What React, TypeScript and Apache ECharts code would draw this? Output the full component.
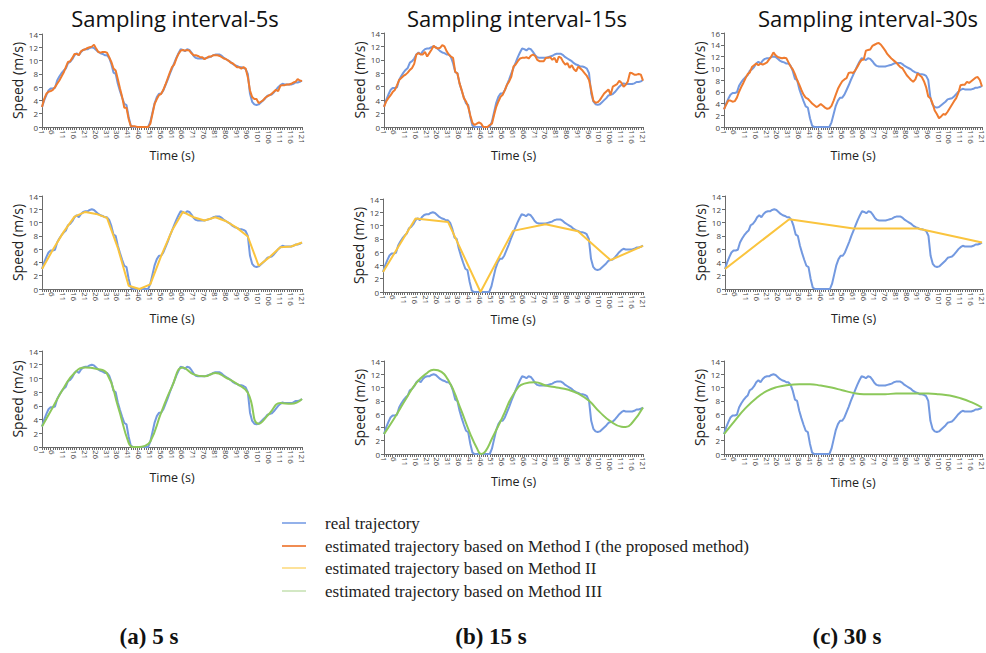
import React, { useEffect, useRef } from "react";
import * as echarts from "echarts";

const times = Array.from({ length: 121 }, (_, i) => String(i + 1));

const realSpeed = [
  3.0, 4.0, 4.8, 5.5, 5.8, 5.8, 5.9, 7.0, 7.6, 8.1,
  8.5, 8.8, 9.6, 9.8, 10.2, 10.8, 11.1, 10.8, 11.3, 11.6,
  11.7, 11.7, 11.9, 12.0, 11.9, 11.6, 11.3, 11.1, 11.0, 10.8,
  10.8, 10.4, 9.5, 8.2, 8.0, 6.5, 5.4, 4.4, 3.5, 3.3,
  1.5, 0.2, 0, 0, 0, 0, 0, 0, 0, 0,
  0.8, 2.2, 3.6, 4.5, 5.0, 5.0, 5.5, 6.3, 7.1, 8.0,
  8.8, 9.6, 10.4, 11.1, 11.7, 11.6, 11.4, 11.7, 11.6, 11.2,
  10.7, 10.4, 10.3, 10.3, 10.3, 10.3, 10.4, 10.5, 10.6, 10.8,
  10.9, 10.9, 10.9, 10.7, 10.4, 10.2, 10.0, 9.8, 9.5, 9.3,
  9.2, 9.0, 9.0, 8.9, 8.7, 8.0, 5.0, 3.8, 3.4, 3.3,
  3.4, 3.7, 4.0, 4.3, 4.7, 4.8, 4.9, 5.2, 5.6, 6.0,
  6.3, 6.5, 6.4, 6.4, 6.4, 6.4, 6.5, 6.7, 6.7, 6.8,
  7.0,
];

const method1At5s = [
  3.0, 4.2, 5.0, 5.3, 5.4, 5.6, 6.0, 6.5, 7.0, 7.6,
  8.2, 9.0, 9.8, 9.9, 10.4, 11.0, 11.0, 10.8, 11.4, 11.6,
  11.7, 11.9, 12.0, 12.1, 12.4, 11.8, 11.3, 11.2, 11.3, 11.3,
  11.2, 10.5, 9.8, 8.8, 8.5, 7.2, 5.8, 4.5, 2.9, 2.9,
  1.2, 0.1, 0.1, 0.1, 0, 0, 0, 0, 0, 0,
  0.5, 2.0, 3.5, 4.2, 4.8, 5.0, 5.6, 6.4, 7.3, 8.2,
  9.0, 9.4, 10.3, 11.0, 11.5, 11.6, 11.5, 11.6, 11.5, 11.1,
  10.8, 10.8, 10.7, 10.5, 10.5, 10.2, 10.4, 10.6, 10.6, 10.8,
  10.8, 10.8, 10.7, 10.5, 10.3, 10.2, 10.0, 9.7, 9.6, 9.3,
  9.0, 9.0, 8.8, 9.0, 8.8, 7.5, 5.5, 4.5, 4.2, 4.2,
  3.6, 3.8, 4.0, 4.4, 4.6, 4.8, 5.0, 5.3, 5.6, 5.4,
  6.2, 6.3, 6.3, 6.4, 6.4, 6.5, 6.7, 6.8, 7.2, 7.0,
  6.9,
];

const method1At15s = [
  3.0, 3.8, 4.3, 4.7, 5.2, 5.5, 6.2, 7.0, 7.3, 7.6,
  7.8, 8.1, 8.5, 8.8, 9.4, 10.8, 11.0, 10.8, 10.8, 11.2,
  10.5, 11.0, 11.5, 12.1, 11.8, 11.7, 11.8, 12.2, 12.0, 11.3,
  10.8, 10.5, 10.3, 8.2, 8.0, 6.5, 5.5, 4.3, 3.8, 3.0,
  1.7, 0.6, 0.3, 0.5, 0.7, 0.5, 0, 0, 0, 0.3,
  0.5, 1.8, 3.0, 3.8, 4.5, 4.8, 5.5, 6.3, 6.8, 7.5,
  9.0, 9.3, 9.8, 10.2, 10.3, 10.3, 10.4, 10.2, 10.6, 10.8,
  10.6, 10.0, 9.8, 9.8, 9.8, 10.3, 10.3, 10.4, 10.0, 10.3,
  9.6, 10.5, 10.3, 9.7, 9.3, 9.5, 8.8, 9.2, 8.6, 8.3,
  9.0, 8.7, 8.4, 8.0, 7.6, 7.0, 5.5, 3.9, 3.6, 3.7,
  4.0, 4.5, 5.0, 5.3, 5.6, 4.8, 6.0, 6.2, 6.4, 6.9,
  6.6, 6.0, 6.3, 6.8, 8.1, 8.0, 7.8, 7.8, 7.9, 7.8,
  6.9,
];

const method1At30s = [
  3.0, 3.8, 4.5, 4.5, 4.3, 4.4, 5.0, 6.0, 6.8, 7.5,
  8.3, 9.0, 9.3, 10.2, 10.5, 10.8, 10.5, 10.8, 10.6, 10.8,
  11.0, 11.5, 12.0, 12.7, 12.2, 11.9, 11.8, 11.7, 11.8, 11.7,
  11.0, 10.3, 9.8, 9.0, 8.0, 7.2, 6.3, 5.5, 5.0, 4.8,
  4.4, 4.0, 3.7, 3.4, 3.6, 3.9, 3.6, 3.3, 3.1, 3.2,
  3.6, 4.5, 5.5, 6.5, 7.2, 7.8, 8.1, 8.3, 9.2, 9.3,
  9.2, 9.6, 10.2, 10.9, 11.4, 11.5, 13.0, 13.1, 13.2, 13.8,
  14.0, 14.2, 14.3, 14.0, 13.5, 13.0, 12.4, 12.0, 11.6, 11.3,
  11.0, 10.6, 10.2, 10.0, 9.4, 8.8, 8.4, 8.0, 7.7, 8.1,
  9.1, 8.8, 8.5, 7.8, 6.8, 5.2, 4.9, 4.0, 2.8, 2.2,
  1.5, 1.8, 2.2, 2.1, 2.6, 3.2, 3.8, 4.4, 4.9, 5.8,
  7.1, 7.2, 7.2, 7.7, 7.5, 7.8, 8.1, 8.4, 8.5, 8.0,
  6.9,
];

const method2At5sTimes = [1, 6, 11, 16, 21, 26, 31, 36, 41, 46, 51, 56, 61, 66, 71, 76, 81, 86, 91, 96, 101, 106, 111, 116, 121];
const method2At5sValues = [3.0, 5.9, 8.6, 10.9, 11.6, 11.3, 10.7, 6.2, 0.5, 0, 0.7, 5.0, 8.8, 11.6, 10.8, 10.3, 10.8, 10.2, 9.2, 7.9, 3.5, 4.8, 6.3, 6.4, 7.0];
const method2At15sTimes = [1, 16, 31, 46, 61, 76, 91, 106, 121];
const method2At15sValues = [3.0, 11.05, 10.55, 0, 9.2, 10.2, 9.15, 4.8, 6.95];
const method2At30sTimes = [1, 31, 61, 91, 121];
const method2At30sValues = [3.0, 10.5, 9.1, 9.1, 7.0];

const method3At5sTimes = [1, 6, 11, 16, 21, 26, 31, 36, 41, 43, 46, 48, 51, 56, 61, 66, 71, 76, 81, 86, 91, 96, 101, 106, 111, 116, 121];
const method3At5sValues = [3.0, 5.8, 8.6, 10.8, 11.6, 11.4, 10.7, 6.0, 0.6, 0, 0, 0.1, 0.8, 5.0, 8.8, 11.6, 10.6, 10.3, 10.8, 10.1, 9.2, 7.9, 3.4, 4.9, 6.4, 6.3, 7.0];
const method3At15sTimes = [1, 6, 11, 16, 21, 24, 26, 31, 36, 41, 44, 46, 48, 51, 56, 61, 66, 71, 76, 81, 86, 91, 96, 101, 106, 111, 113, 116, 121];
const method3At15sValues = [3.0, 5.5, 8.2, 10.7, 12.2, 12.7, 12.6, 11.0, 7.2, 3.0, 0.9, 0, 0.4, 2.3, 5.6, 9.0, 10.6, 10.8, 10.3, 10.0, 9.7, 9.1, 8.0, 6.3, 4.9, 4.1, 4.05, 4.7, 7.0];
const method3At30sTimes = [1, 6, 11, 16, 21, 26, 31, 36, 41, 46, 51, 56, 61, 66, 71, 76, 81, 86, 91, 96, 101, 106, 111, 116, 121];
const method3At30sValues = [3.0, 5.0, 6.9, 8.4, 9.5, 10.1, 10.4, 10.5, 10.5, 10.3, 10.0, 9.6, 9.2, 9.0, 9.0, 9.0, 9.1, 9.1, 9.1, 9.1, 9.0, 8.8, 8.4, 7.8, 7.0];

const titles = ["Sampling interval-5s", "Sampling interval-15s", "Sampling interval-30s"];
const captions = ["(a) 5 s", "(b) 15 s", "(c) 30 s"];
const legendNames = [
  "real trajectory",
  "estimated trajectory based on Method I (the proposed method)",
  "estimated trajectory based on Method II",
  "estimated trajectory based on Method III",
];

const REAL = "#7399e0";
const ORANGE = "#ef7b2f";
const YELLOW = "#fac43e";
const GREEN = "#8cc85a";
const LEGEND_COLORS = ["#93b1ea", "#f08c52", "#fde29a", "#d3e8c4"];

// layout of the nine panels
const panels = [
  { left: 42, top: 34, width: 260, height: 93, yMax: 14, nameGap: 22 },
  { left: 384, top: 33, width: 259, height: 94, yMax: 14, nameGap: 22 },
  { left: 724, top: 33, width: 261, height: 94, yMax: 16, nameGap: 22 },
  { left: 42, top: 196, width: 260, height: 93, yMax: 14, nameGap: 23 },
  { left: 383, top: 199, width: 260, height: 93, yMax: 14, nameGap: 20 },
  { left: 725, top: 196, width: 260, height: 93, yMax: 14, nameGap: 23 },
  { left: 42, top: 351, width: 260, height: 96, yMax: 14, nameGap: 24 },
  { left: 384, top: 361, width: 259, height: 93, yMax: 14, nameGap: 16 },
  { left: 724, top: 361, width: 261, height: 93, yMax: 14, nameGap: 22 },
];

function pairs(ts: number[], vs: number[]) {
  return ts.map((t, i) => [t - 1, vs[i]]);
}

export default function App() {
  const ref = useRef<HTMLDivElement>(null);

  useEffect(() => {
    if (!ref.current) return;
    const chart = echarts.init(ref.current, null, { renderer: "svg" });

    const grids = panels.map((p) => ({
      left: p.left,
      top: p.top,
      width: p.width,
      height: p.height,
      containLabel: false,
    }));

    const xAxes = panels.map((p, i) => ({
      type: "category",
      gridIndex: i,
      data: times,
      boundaryGap: false,
      axisLine: { lineStyle: { color: "#6b6b6b", width: 1 } },
      axisTick: { interval: 0, length: 3, lineStyle: { color: "#6b6b6b" } },
      axisLabel: {
        interval: 4,
        rotate: -90,
        fontSize: 8,
        color: "#444",
        margin: 3,
        fontFamily: "Open Sans",
      },
      name: "Time (s)",
      nameLocation: "middle",
      nameGap: p.nameGap,
      nameTextStyle: { fontSize: 12.5, color: "#222", fontFamily: "Open Sans" },
    }));

    const yAxes = panels.map((p, i) => ({
      type: "value",
      gridIndex: i,
      min: 0,
      max: p.yMax,
      interval: 2,
      splitLine: { show: false },
      axisLine: { show: true, lineStyle: { color: "#6b6b6b" } },
      axisTick: { show: true, length: 3, lineStyle: { color: "#6b6b6b" } },
      axisLabel: { fontSize: 8, color: "#444", margin: 4, fontFamily: "Open Sans" },
      name: "Speed (m/s)",
      nameLocation: "middle",
      nameGap: 16,
      nameTextStyle: { fontSize: 14, color: "#222", fontFamily: "Open Sans" },
    }));

    const line = (i: number, name: string, data: any[], color: string, smooth = false, z = 2) => ({
      type: "line",
      name,
      xAxisIndex: i,
      yAxisIndex: i,
      data,
      showSymbol: false,
      symbol: "none",
      smooth,
      lineStyle: { color, width: 2 },
      itemStyle: { color },
      z,
    });

    const series: any[] = [];
    for (let i = 0; i < 9; i++) series.push(line(i, legendNames[0], realSpeed, REAL));
    series.push(line(0, legendNames[1], method1At5s, ORANGE, false, 3));
    series.push(line(1, legendNames[1], method1At15s, ORANGE, false, 3));
    series.push(line(2, legendNames[1], method1At30s, ORANGE, false, 3));
    series.push(line(3, legendNames[2], pairs(method2At5sTimes, method2At5sValues), YELLOW, false, 3));
    series.push(line(4, legendNames[2], pairs(method2At15sTimes, method2At15sValues), YELLOW, false, 3));
    series.push(line(5, legendNames[2], pairs(method2At30sTimes, method2At30sValues), YELLOW, false, 3));
    series.push(line(6, legendNames[3], pairs(method3At5sTimes, method3At5sValues), GREEN, true, 3));
    series.push(line(7, legendNames[3], pairs(method3At15sTimes, method3At15sValues), GREEN, true, 3));
    series.push(line(8, legendNames[3], pairs(method3At30sTimes, method3At30sValues), GREEN, true, 3));

    const titleCenters = [175, 517, 868];
    const captionCenters = [149, 491, 847];
    const legendRows = [523, 546, 568, 591];

    const graphic: any[] = [];
    titles.forEach((t, i) =>
      graphic.push({
        type: "text",
        x: titleCenters[i],
        y: 18,
        style: {
          text: t,
          fontSize: 22,
          fontFamily: "Open Sans",
          fill: "#111",
          align: "center",
          verticalAlign: "middle",
        },
      })
    );
    legendNames.forEach((n, i) => {
      graphic.push({
        type: "line",
        shape: { x1: 282, y1: legendRows[i], x2: 306, y2: legendRows[i] },
        style: { stroke: LEGEND_COLORS[i], lineWidth: 2 },
      });
      graphic.push({
        type: "text",
        x: 325,
        y: legendRows[i],
        style: {
          text: n,
          fontSize: 17,
          fontFamily: "Liberation Serif",
          fill: "#222",
          align: "left",
          verticalAlign: "middle",
        },
      });
    });
    captions.forEach((c, i) =>
      graphic.push({
        type: "text",
        x: captionCenters[i],
        y: 636,
        style: {
          text: c,
          fontSize: 23,
          fontWeight: "bold",
          fontFamily: "Liberation Serif",
          fill: "#111",
          align: "center",
          verticalAlign: "middle",
        },
      })
    );

    chart.setOption({
      animation: false,
      backgroundColor: "#ffffff",
      grid: grids,
      xAxis: xAxes,
      yAxis: yAxes,
      series,
      graphic,
    });

    return () => chart.dispose();
  }, []);

  return (
    <div
      ref={ref}
      style={{ position: "fixed", left: 0, top: 0, width: 986, height: 653 }}
    />
  );
}
